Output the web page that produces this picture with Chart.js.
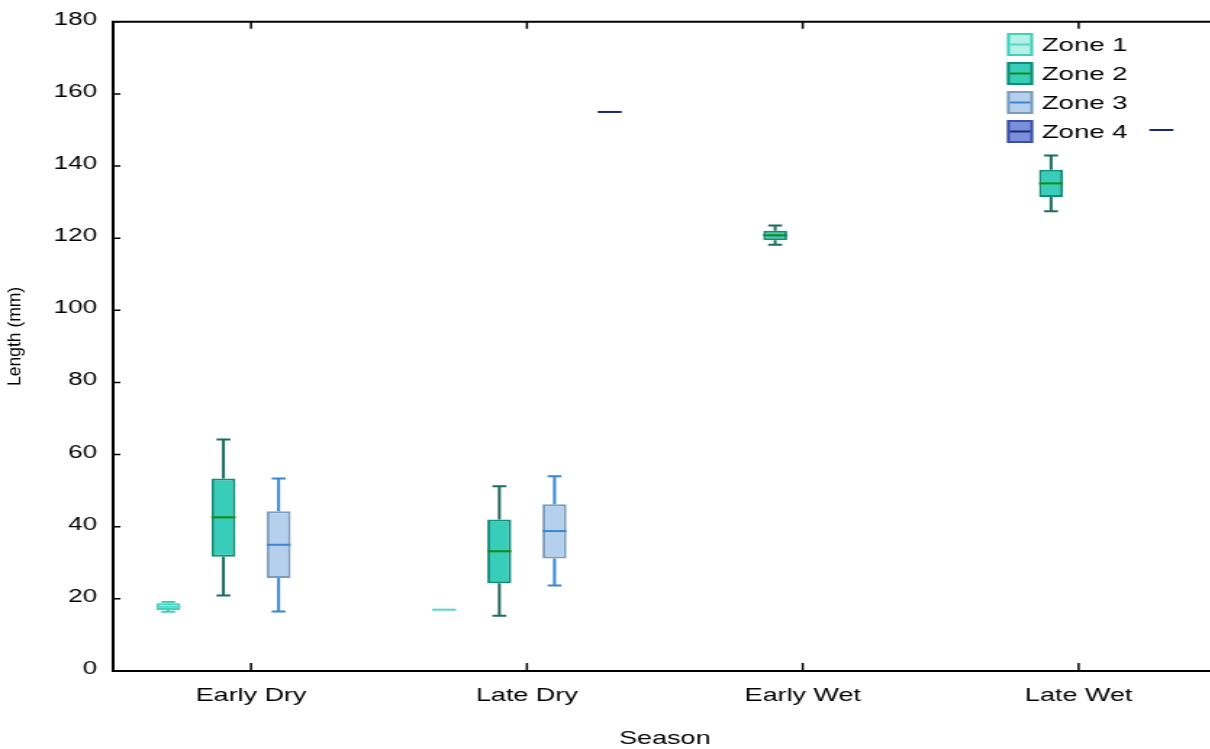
<!DOCTYPE html>
<html>
<head>
<meta charset="utf-8">
<title>Length by season</title>
<script src="https://cdn.jsdelivr.net/npm/chart.js@4.4.0/dist/chart.umd.min.js"></script>
<style>
  html, body { margin: 0; padding: 0; background: #fff; overflow: hidden; }
  /* chart is laid out narrow, then widened */
  #wrap { width: 840px; height: 749px; transform: scaleX(1.45); transform-origin: 0 0; }
</style>
</head>
<body>
<div id="wrap"><canvas id="boxChart"></canvas></div>
<script>
const STRETCH = 1.45;
const FONT = "'Liberation Sans', Arial, sans-serif";

const seasons = ['Early Dry', 'Late Dry', 'Early Wet', 'Late Wet'];
const zoneNames = ['Zone 1', 'Zone 2', 'Zone 3', 'Zone 4'];

// [min, q1, median, q3, max] for each season, null = no fish caught
const zone1 = [[16.4, 16.9, 17.8, 18.8, 19.1], [17, 17, 17, 17, 17], null, null];
const zone2 = [[20.9, 31.7, 42.6, 53.4, 64.2], [15.3, 24.3, 33.2, 42.0, 51.2],
               [118.2, 119.4, 120.8, 122.1, 123.5], [127.5, 131.4, 135.2, 139.0, 142.9]];
const zone3 = [[16.5, 25.8, 35.0, 44.3, 53.4], [23.7, 31.2, 38.8, 46.2, 54.0], null, null];
const zone4 = [null, [155, 155, 155, 155, 155], null, [150, 150, 150, 150, 150]];

const yMin = 0, yMax = 180, yStep = 20;

const zones = [zone1, zone2, zone3, zone4];

const zoneStyles = [
  { fill: '#b5efe6', border: '#3fd0be', median: '#55d6c5', whisker: '#3fd0be' },
  { fill: '#38cdb8', border: '#0f8c7a', median: '#118a14', whisker: '#1d6b60' },
  { fill: '#b5d0ec', border: '#7b9bbf', median: '#3a86d0', whisker: '#3a86d0' },
  { fill: '#7b8fdc', border: '#3a50a8', median: '#1a2a6c', whisker: '#2a3a8a' }
];

// whiskers, caps and median lines on top of the q1-q3 bars
const boxWhiskers = {
  id: 'boxWhiskers',
  afterDatasetsDraw(chart) {
    const ctx = chart.ctx;
    const y = chart.scales.y;
    chart.data.datasets.forEach((ds, i) => {
      const meta = chart.getDatasetMeta(i);
      const st = zoneStyles[i];
      meta.data.forEach((bar, j) => {
        const s = ds.stats[j];
        if (!s) return;
        const half = bar.width / 2;
        const cap = bar.width * 0.29;
        const [lo, q1, med, q3, hi] = s.map(v => y.getPixelForValue(v));
        ctx.save();
        ctx.lineWidth = 2;
        ctx.strokeStyle = st.whisker;
        ctx.beginPath();
        if (q3 - hi > 0.5) {
          ctx.moveTo(bar.x, q3);
          ctx.lineTo(bar.x, hi);
          ctx.moveTo(bar.x - cap, hi);
          ctx.lineTo(bar.x + cap, hi);
        }
        if (lo - q1 > 0.5) {
          ctx.moveTo(bar.x, q1);
          ctx.lineTo(bar.x, lo);
          ctx.moveTo(bar.x - cap, lo);
          ctx.lineTo(bar.x + cap, lo);
        }
        ctx.stroke();
        ctx.strokeStyle = st.median;
        ctx.beginPath();
        ctx.moveTo(bar.x - half, med);
        ctx.lineTo(bar.x + half, med);
        ctx.stroke();
        ctx.restore();
      });
    });
  }
};

// top frame line and the inward tick marks
const frame = {
  id: 'frame',
  afterDraw(chart) {
    const ctx = chart.ctx;
    const { left, right, top, bottom } = chart.chartArea;
    const x = chart.scales.x;
    const y = chart.scales.y;
    ctx.save();
    ctx.strokeStyle = '#000';
    ctx.lineWidth = 2;
    ctx.beginPath();
    ctx.moveTo(left - 1, top);
    ctx.lineTo(right + 1, top);
    ctx.stroke();
    ctx.lineWidth = 1.5;
    ctx.beginPath();
    seasons.forEach((s, i) => {
      const px = x.getPixelForValue(i);
      ctx.moveTo(px, bottom);
      ctx.lineTo(px, bottom - 8);
      ctx.moveTo(px, top);
      ctx.lineTo(px, top + 7);
    });
    y.ticks.forEach(t => {
      const py = y.getPixelForValue(t.value);
      ctx.moveTo(left, py);
      ctx.lineTo(left + 5, py);
    });
    ctx.stroke();
    ctx.restore();
  }
};

// legend inside the plot, top right
const zoneLegend = {
  id: 'zoneLegend',
  afterDraw(chart) {
    const ctx = chart.ctx;
    const sx = 694.5, sw = 18, sh = 23, tx = 718.5, y0 = 44.5, gap = 29;
    ctx.save();
    chart.data.datasets.forEach((ds, i) => {
      const st = zoneStyles[i];
      const cy = y0 + i * gap;
      ctx.fillStyle = st.fill;
      ctx.fillRect(sx, cy - sh / 2, sw, sh);
      ctx.strokeStyle = st.border;
      ctx.lineWidth = 2;
      ctx.strokeRect(sx + 1, cy - sh / 2 + 1, sw - 2, sh - 2);
      ctx.strokeStyle = st.median;
      ctx.beginPath();
      ctx.moveTo(sx + 2, cy);
      ctx.lineTo(sx + sw - 2, cy);
      ctx.stroke();
      ctx.fillStyle = '#000';
      ctx.font = '19px ' + FONT;
      ctx.textBaseline = 'middle';
      ctx.textAlign = 'left';
      ctx.fillText(ds.label, tx, cy + 1);
    });
    ctx.restore();
  }
};

// y title is drawn narrow so it stays upright after the widening
const yTitle = {
  id: 'yTitle',
  afterDraw(chart) {
    const ctx = chart.ctx;
    const { top, bottom } = chart.chartArea;
    ctx.save();
    ctx.translate(11, (top + bottom) / 2 - 10);
    ctx.scale(1 / STRETCH, 1);
    ctx.rotate(-Math.PI / 2);
    ctx.fillStyle = '#000';
    ctx.font = '17.5px ' + FONT;
    ctx.textAlign = 'center';
    ctx.textBaseline = 'middle';
    ctx.fillText('Length (mm)', 0, 0);
    ctx.restore();
  }
};

const ctx = document.getElementById('boxChart');

const myChart = new Chart(ctx, {
  type: 'bar',
  data: {
    labels: seasons,
    datasets: zones.map((zone, i) => ({
      label: zoneNames[i],
      data: zone.map(s => s ? [s[1], s[3]] : null),
      stats: zone,
      backgroundColor: zoneStyles[i].fill,
      borderColor: zoneStyles[i].border,
      borderWidth: 2,
      borderSkipped: false,
      barPercentage: 0.435,
      categoryPercentage: 0.8
    }))
  },
  options: {
    responsive: true,
    maintainAspectRatio: false,
    animation: false,
    layout: { padding: { top: 21, right: 1, left: 0, bottom: 0 } },
    plugins: {
      legend: { display: false },
      tooltip: { enabled: false }
    },
    scales: {
      x: {
        grid: { display: false, drawTicks: false },
        border: { display: true, color: '#000', width: 2 },
        ticks: { color: '#000', font: { family: FONT, size: 18.6 }, padding: 14, maxRotation: 0 },
        title: {
          display: true,
          text: 'Season',
          color: '#000',
          font: { family: FONT, size: 18.6 },
          padding: { top: 4, bottom: -1 }
        },
        afterFit(scale) { scale.height = 78; }
      },
      y: {
        min: yMin,
        max: yMax,
        grid: { display: false, drawTicks: false },
        border: { display: true, color: '#000', width: 2 },
        ticks: { stepSize: yStep, color: '#000', font: { family: FONT, size: 18 }, padding: 11, labelOffset: -2 },
        afterFit(scale) { scale.width = 78; }
      }
    }
  },
  plugins: [boxWhiskers, frame, zoneLegend, yTitle]
});
</script>
</body>
</html>
